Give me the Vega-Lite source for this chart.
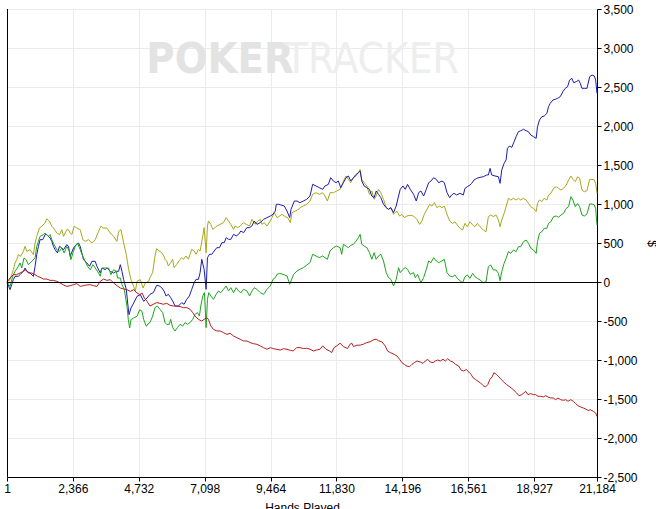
{
  "$schema": "https://vega.github.io/schema/vega-lite/v6.json",
  "description": "PokerTracker results graph",
  "width": 590,
  "height": 468,
  "autosize": {"type": "none"},
  "padding": {"left": 7, "top": 9, "right": 59, "bottom": 32},
  "background": "white",
  "data": {
    "values": [
      {"s": "Olive", "h": 1, "v": 0}, {"s": "Olive", "h": 109, "v": 30}, {"s": "Olive", "h": 229, "v": 158}, {"s": "Olive", "h": 289, "v": 244}, {"s": "Olive", "h": 349, "v": 286}, {"s": "Olive", "h": 409, "v": 350}, {"s": "Olive", "h": 493, "v": 329}, {"s": "Olive", "h": 589, "v": 393}, {"s": "Olive", "h": 649, "v": 457}, {"s": "Olive", "h": 709, "v": 393}, {"s": "Olive", "h": 829, "v": 414}, {"s": "Olive", "h": 949, "v": 350}, {"s": "Olive", "h": 1009, "v": 500}, {"s": "Olive", "h": 1069, "v": 585}, {"s": "Olive", "h": 1165, "v": 692}, {"s": "Olive", "h": 1249, "v": 714}, {"s": "Olive", "h": 1369, "v": 756}, {"s": "Olive", "h": 1429, "v": 812}, {"s": "Olive", "h": 1525, "v": 778}, {"s": "Olive", "h": 1609, "v": 714}, {"s": "Olive", "h": 1669, "v": 692}, {"s": "Olive", "h": 1789, "v": 628}, {"s": "Olive", "h": 1885, "v": 607}, {"s": "Olive", "h": 1969, "v": 671}, {"s": "Olive", "h": 2029, "v": 585}, {"s": "Olive", "h": 2149, "v": 671}, {"s": "Olive", "h": 2209, "v": 671}, {"s": "Olive", "h": 2269, "v": 628}, {"s": "Olive", "h": 2329, "v": 607}, {"s": "Olive", "h": 2413, "v": 714}, {"s": "Olive", "h": 2509, "v": 692}, {"s": "Olive", "h": 2629, "v": 671}, {"s": "Olive", "h": 2725, "v": 543}, {"s": "Olive", "h": 2809, "v": 521}, {"s": "Olive", "h": 2929, "v": 543}, {"s": "Olive", "h": 3049, "v": 500}, {"s": "Olive", "h": 3169, "v": 543}, {"s": "Olive", "h": 3289, "v": 649}, {"s": "Olive", "h": 3373, "v": 714}, {"s": "Olive", "h": 3469, "v": 692}, {"s": "Olive", "h": 3589, "v": 692}, {"s": "Olive", "h": 3709, "v": 628}, {"s": "Olive", "h": 3829, "v": 585}, {"s": "Olive", "h": 3949, "v": 521}, {"s": "Olive", "h": 4009, "v": 649}, {"s": "Olive", "h": 4093, "v": 671}, {"s": "Olive", "h": 4189, "v": 500}, {"s": "Olive", "h": 4285, "v": 350}, {"s": "Olive", "h": 4369, "v": 158}, {"s": "Olive", "h": 4453, "v": 30}, {"s": "Olive", "h": 4549, "v": -56}, {"s": "Olive", "h": 4609, "v": -120}, {"s": "Olive", "h": 4669, "v": 9}, {"s": "Olive", "h": 4789, "v": 30}, {"s": "Olive", "h": 4885, "v": -77}, {"s": "Olive", "h": 4969, "v": -13}, {"s": "Olive", "h": 5089, "v": 9},
      {"s": "Olive", "h": 5134, "v": 56}, {"s": "Olive", "h": 5230, "v": 120}, {"s": "Olive", "h": 5314, "v": 333}, {"s": "Olive", "h": 5374, "v": 427}, {"s": "Olive", "h": 5470, "v": 397}, {"s": "Olive", "h": 5554, "v": 376}, {"s": "Olive", "h": 5638, "v": 333}, {"s": "Olive", "h": 5674, "v": 291}, {"s": "Olive", "h": 5734, "v": 269}, {"s": "Olive", "h": 5794, "v": 205}, {"s": "Olive", "h": 5878, "v": 248}, {"s": "Olive", "h": 5950, "v": 291}, {"s": "Olive", "h": 5998, "v": 184}, {"s": "Olive", "h": 6094, "v": 226}, {"s": "Olive", "h": 6214, "v": 291}, {"s": "Olive", "h": 6274, "v": 312}, {"s": "Olive", "h": 6334, "v": 291}, {"s": "Olive", "h": 6430, "v": 333}, {"s": "Olive", "h": 6514, "v": 291}, {"s": "Olive", "h": 6574, "v": 355}, {"s": "Olive", "h": 6634, "v": 419}, {"s": "Olive", "h": 6718, "v": 397}, {"s": "Olive", "h": 6790, "v": 355}, {"s": "Olive", "h": 6874, "v": 419}, {"s": "Olive", "h": 6934, "v": 397}, {"s": "Olive", "h": 7030, "v": 590}, {"s": "Olive", "h": 7078, "v": 697}, {"s": "Olive", "h": 7150, "v": 376}, {"s": "Olive", "h": 7198, "v": 718}, {"s": "Olive", "h": 7234, "v": 782}, {"s": "Olive", "h": 7318, "v": 739}, {"s": "Olive", "h": 7390, "v": 675}, {"s": "Olive", "h": 7474, "v": 697}, {"s": "Olive", "h": 7534, "v": 718}, {"s": "Olive", "h": 7654, "v": 739}, {"s": "Olive", "h": 7774, "v": 761}, {"s": "Olive", "h": 7870, "v": 825}, {"s": "Olive", "h": 7954, "v": 782}, {"s": "Olive", "h": 8038, "v": 739}, {"s": "Olive", "h": 8134, "v": 675}, {"s": "Olive", "h": 8194, "v": 718}, {"s": "Olive", "h": 8278, "v": 697}, {"s": "Olive", "h": 8374, "v": 718}, {"s": "Olive", "h": 8494, "v": 761}, {"s": "Olive", "h": 8590, "v": 739}, {"s": "Olive", "h": 8710, "v": 718}, {"s": "Olive", "h": 8794, "v": 803}, {"s": "Olive", "h": 8914, "v": 739}, {"s": "Olive", "h": 8998, "v": 782}, {"s": "Olive", "h": 9094, "v": 803}, {"s": "Olive", "h": 9154, "v": 739}, {"s": "Olive", "h": 9238, "v": 761}, {"s": "Olive", "h": 9334, "v": 718}, {"s": "Olive", "h": 9454, "v": 782}, {"s": "Olive", "h": 9514, "v": 825}, {"s": "Olive", "h": 9598, "v": 889}, {"s": "Olive", "h": 9694, "v": 825}, {"s": "Olive", "h": 9790, "v": 846}, {"s": "Olive", "h": 9874, "v": 867}, {"s": "Olive", "h": 9994, "v": 837}, {"s": "Olive", "h": 10078, "v": 825}, {"s": "Olive", "h": 10174, "v": 761}, {"s": "Olive", "h": 10234, "v": 889}, {"s": "Olive", "h": 10354, "v": 910}, {"s": "Olive", "h": 10474, "v": 932},
      {"s": "Olive", "h": 10519, "v": 953}, {"s": "Olive", "h": 10639, "v": 974}, {"s": "Olive", "h": 10759, "v": 996}, {"s": "Olive", "h": 10879, "v": 1038}, {"s": "Olive", "h": 10975, "v": 1124}, {"s": "Olive", "h": 11095, "v": 1145}, {"s": "Olive", "h": 11215, "v": 1124}, {"s": "Olive", "h": 11335, "v": 1145}, {"s": "Olive", "h": 11419, "v": 1102}, {"s": "Olive", "h": 11503, "v": 1038}, {"s": "Olive", "h": 11599, "v": 1145}, {"s": "Olive", "h": 11719, "v": 1145}, {"s": "Olive", "h": 11839, "v": 1167}, {"s": "Olive", "h": 11959, "v": 1188}, {"s": "Olive", "h": 12079, "v": 1295}, {"s": "Olive", "h": 12175, "v": 1359}, {"s": "Olive", "h": 12259, "v": 1316}, {"s": "Olive", "h": 12343, "v": 1273}, {"s": "Olive", "h": 12439, "v": 1337}, {"s": "Olive", "h": 12535, "v": 1359}, {"s": "Olive", "h": 12619, "v": 1402}, {"s": "Olive", "h": 12679, "v": 1444}, {"s": "Olive", "h": 12739, "v": 1316}, {"s": "Olive", "h": 12823, "v": 1273}, {"s": "Olive", "h": 12919, "v": 1231}, {"s": "Olive", "h": 13015, "v": 1124}, {"s": "Olive", "h": 13099, "v": 1167}, {"s": "Olive", "h": 13183, "v": 1060}, {"s": "Olive", "h": 13255, "v": 1102}, {"s": "Olive", "h": 13339, "v": 1188}, {"s": "Olive", "h": 13423, "v": 1145}, {"s": "Olive", "h": 13519, "v": 1060}, {"s": "Olive", "h": 13615, "v": 953}, {"s": "Olive", "h": 13699, "v": 932}, {"s": "Olive", "h": 13783, "v": 953}, {"s": "Olive", "h": 13879, "v": 867}, {"s": "Olive", "h": 13999, "v": 910}, {"s": "Olive", "h": 14095, "v": 846}, {"s": "Olive", "h": 14179, "v": 867}, {"s": "Olive", "h": 14263, "v": 825}, {"s": "Olive", "h": 14359, "v": 846}, {"s": "Olive", "h": 14479, "v": 855}, {"s": "Olive", "h": 14599, "v": 846}, {"s": "Olive", "h": 14719, "v": 803}, {"s": "Olive", "h": 14815, "v": 739}, {"s": "Olive", "h": 14899, "v": 782}, {"s": "Olive", "h": 14983, "v": 867}, {"s": "Olive", "h": 15079, "v": 932}, {"s": "Olive", "h": 15175, "v": 996}, {"s": "Olive", "h": 15259, "v": 974}, {"s": "Olive", "h": 15343, "v": 1017}, {"s": "Olive", "h": 15439, "v": 953}, {"s": "Olive", "h": 15535, "v": 974}, {"s": "Olive", "h": 15619, "v": 953}, {"s": "Olive", "h": 15703, "v": 974}, {"s": "Olive", "h": 15799, "v": 867}, {"s": "Olive", "h": 15895, "v": 782},
      {"s": "Olive", "h": 16000, "v": 752}, {"s": "Olive", "h": 16084, "v": 773}, {"s": "Olive", "h": 16168, "v": 731}, {"s": "Olive", "h": 16264, "v": 688}, {"s": "Olive", "h": 16360, "v": 667}, {"s": "Olive", "h": 16444, "v": 752}, {"s": "Olive", "h": 16528, "v": 709}, {"s": "Olive", "h": 16624, "v": 773}, {"s": "Olive", "h": 16720, "v": 731}, {"s": "Olive", "h": 16804, "v": 709}, {"s": "Olive", "h": 16888, "v": 752}, {"s": "Olive", "h": 16984, "v": 709}, {"s": "Olive", "h": 17104, "v": 667}, {"s": "Olive", "h": 17200, "v": 645}, {"s": "Olive", "h": 17284, "v": 838}, {"s": "Olive", "h": 17368, "v": 859}, {"s": "Olive", "h": 17464, "v": 838}, {"s": "Olive", "h": 17560, "v": 859}, {"s": "Olive", "h": 17644, "v": 795}, {"s": "Olive", "h": 17704, "v": 709}, {"s": "Olive", "h": 17764, "v": 795}, {"s": "Olive", "h": 17848, "v": 880}, {"s": "Olive", "h": 17920, "v": 966}, {"s": "Olive", "h": 18004, "v": 1073}, {"s": "Olive", "h": 18088, "v": 1051}, {"s": "Olive", "h": 18184, "v": 1073}, {"s": "Olive", "h": 18280, "v": 1051}, {"s": "Olive", "h": 18364, "v": 1073}, {"s": "Olive", "h": 18448, "v": 1051}, {"s": "Olive", "h": 18544, "v": 1073}, {"s": "Olive", "h": 18640, "v": 1051}, {"s": "Olive", "h": 18724, "v": 1008}, {"s": "Olive", "h": 18808, "v": 966}, {"s": "Olive", "h": 18904, "v": 944}, {"s": "Olive", "h": 19000, "v": 902}, {"s": "Olive", "h": 19048, "v": 1008}, {"s": "Olive", "h": 19120, "v": 1051}, {"s": "Olive", "h": 19204, "v": 1030}, {"s": "Olive", "h": 19288, "v": 1073}, {"s": "Olive", "h": 19384, "v": 1051}, {"s": "Olive", "h": 19444, "v": 1115}, {"s": "Olive", "h": 19528, "v": 1137}, {"s": "Olive", "h": 19624, "v": 1201}, {"s": "Olive", "h": 19720, "v": 1222}, {"s": "Olive", "h": 19804, "v": 1201}, {"s": "Olive", "h": 19888, "v": 1179}, {"s": "Olive", "h": 19984, "v": 1201}, {"s": "Olive", "h": 20080, "v": 1243}, {"s": "Olive", "h": 20164, "v": 1308}, {"s": "Olive", "h": 20248, "v": 1359}, {"s": "Olive", "h": 20320, "v": 1316}, {"s": "Olive", "h": 20404, "v": 1286}, {"s": "Olive", "h": 20488, "v": 1350}, {"s": "Olive", "h": 20560, "v": 1329}, {"s": "Olive", "h": 20644, "v": 1179}, {"s": "Olive", "h": 20728, "v": 1158}, {"s": "Olive", "h": 20824, "v": 1171}, {"s": "Olive", "h": 20920, "v": 1316}, {"s": "Olive", "h": 21004, "v": 1316}, {"s": "Olive", "h": 21088, "v": 1308}, {"s": "Olive", "h": 21136, "v": 1265}, {"s": "Olive", "h": 21184, "v": 1137},

      {"s": "Blue", "h": 1, "v": 0}, {"s": "Blue", "h": 109, "v": -98}, {"s": "Blue", "h": 169, "v": -34}, {"s": "Blue", "h": 229, "v": 30}, {"s": "Blue", "h": 289, "v": 73}, {"s": "Blue", "h": 409, "v": 73}, {"s": "Blue", "h": 469, "v": 94}, {"s": "Blue", "h": 589, "v": 137}, {"s": "Blue", "h": 649, "v": 179}, {"s": "Blue", "h": 709, "v": 137}, {"s": "Blue", "h": 829, "v": 115}, {"s": "Blue", "h": 949, "v": 73}, {"s": "Blue", "h": 1009, "v": 201}, {"s": "Blue", "h": 1069, "v": 350}, {"s": "Blue", "h": 1129, "v": 457}, {"s": "Blue", "h": 1189, "v": 543}, {"s": "Blue", "h": 1285, "v": 543}, {"s": "Blue", "h": 1369, "v": 607}, {"s": "Blue", "h": 1429, "v": 607}, {"s": "Blue", "h": 1549, "v": 564}, {"s": "Blue", "h": 1609, "v": 521}, {"s": "Blue", "h": 1669, "v": 457}, {"s": "Blue", "h": 1729, "v": 414}, {"s": "Blue", "h": 1813, "v": 372}, {"s": "Blue", "h": 1885, "v": 457}, {"s": "Blue", "h": 1969, "v": 436}, {"s": "Blue", "h": 2029, "v": 414}, {"s": "Blue", "h": 2149, "v": 479}, {"s": "Blue", "h": 2209, "v": 457}, {"s": "Blue", "h": 2269, "v": 329}, {"s": "Blue", "h": 2389, "v": 436}, {"s": "Blue", "h": 2485, "v": 479}, {"s": "Blue", "h": 2569, "v": 500}, {"s": "Blue", "h": 2629, "v": 457}, {"s": "Blue", "h": 2749, "v": 286}, {"s": "Blue", "h": 2869, "v": 244}, {"s": "Blue", "h": 2965, "v": 201}, {"s": "Blue", "h": 3049, "v": 265}, {"s": "Blue", "h": 3169, "v": 265}, {"s": "Blue", "h": 3229, "v": 201}, {"s": "Blue", "h": 3349, "v": 115}, {"s": "Blue", "h": 3409, "v": 179}, {"s": "Blue", "h": 3529, "v": 158}, {"s": "Blue", "h": 3589, "v": 179}, {"s": "Blue", "h": 3709, "v": 137}, {"s": "Blue", "h": 3829, "v": 115}, {"s": "Blue", "h": 3925, "v": 137}, {"s": "Blue", "h": 4009, "v": 137}, {"s": "Blue", "h": 4069, "v": 222}, {"s": "Blue", "h": 4129, "v": 137}, {"s": "Blue", "h": 4189, "v": 30}, {"s": "Blue", "h": 4285, "v": -98}, {"s": "Blue", "h": 4333, "v": -269}, {"s": "Blue", "h": 4381, "v": -419}, {"s": "Blue", "h": 4453, "v": -333}, {"s": "Blue", "h": 4549, "v": -269}, {"s": "Blue", "h": 4669, "v": -184}, {"s": "Blue", "h": 4789, "v": -162}, {"s": "Blue", "h": 4909, "v": -248}, {"s": "Blue", "h": 5029, "v": -205},
      {"s": "Blue", "h": 5134, "v": -158}, {"s": "Blue", "h": 5254, "v": -137}, {"s": "Blue", "h": 5374, "v": -43}, {"s": "Blue", "h": 5470, "v": -51}, {"s": "Blue", "h": 5554, "v": -73}, {"s": "Blue", "h": 5638, "v": -115}, {"s": "Blue", "h": 5710, "v": -179}, {"s": "Blue", "h": 5794, "v": -158}, {"s": "Blue", "h": 5878, "v": -201}, {"s": "Blue", "h": 5950, "v": -244}, {"s": "Blue", "h": 6034, "v": -308}, {"s": "Blue", "h": 6154, "v": -308}, {"s": "Blue", "h": 6274, "v": -265}, {"s": "Blue", "h": 6358, "v": -286}, {"s": "Blue", "h": 6454, "v": -222}, {"s": "Blue", "h": 6550, "v": -179}, {"s": "Blue", "h": 6634, "v": -94}, {"s": "Blue", "h": 6718, "v": -9}, {"s": "Blue", "h": 6790, "v": 34}, {"s": "Blue", "h": 6874, "v": 34}, {"s": "Blue", "h": 6934, "v": 120}, {"s": "Blue", "h": 6994, "v": 291}, {"s": "Blue", "h": 7078, "v": 162}, {"s": "Blue", "h": 7150, "v": -94}, {"s": "Blue", "h": 7198, "v": 312}, {"s": "Blue", "h": 7270, "v": 355}, {"s": "Blue", "h": 7354, "v": 355}, {"s": "Blue", "h": 7438, "v": 397}, {"s": "Blue", "h": 7534, "v": 440}, {"s": "Blue", "h": 7630, "v": 440}, {"s": "Blue", "h": 7714, "v": 504}, {"s": "Blue", "h": 7798, "v": 504}, {"s": "Blue", "h": 7870, "v": 568}, {"s": "Blue", "h": 7954, "v": 547}, {"s": "Blue", "h": 8038, "v": 547}, {"s": "Blue", "h": 8134, "v": 611}, {"s": "Blue", "h": 8230, "v": 590}, {"s": "Blue", "h": 8314, "v": 611}, {"s": "Blue", "h": 8398, "v": 654}, {"s": "Blue", "h": 8494, "v": 632}, {"s": "Blue", "h": 8614, "v": 697}, {"s": "Blue", "h": 8710, "v": 697}, {"s": "Blue", "h": 8794, "v": 718}, {"s": "Blue", "h": 8878, "v": 782}, {"s": "Blue", "h": 8974, "v": 739}, {"s": "Blue", "h": 9094, "v": 761}, {"s": "Blue", "h": 9214, "v": 803}, {"s": "Blue", "h": 9334, "v": 825}, {"s": "Blue", "h": 9454, "v": 846}, {"s": "Blue", "h": 9550, "v": 867}, {"s": "Blue", "h": 9634, "v": 910}, {"s": "Blue", "h": 9670, "v": 996}, {"s": "Blue", "h": 9754, "v": 996}, {"s": "Blue", "h": 9874, "v": 983}, {"s": "Blue", "h": 9958, "v": 974}, {"s": "Blue", "h": 10054, "v": 910}, {"s": "Blue", "h": 10150, "v": 825}, {"s": "Blue", "h": 10198, "v": 932}, {"s": "Blue", "h": 10318, "v": 1038}, {"s": "Blue", "h": 10414, "v": 1038},
      {"s": "Blue", "h": 10519, "v": 1017}, {"s": "Blue", "h": 10639, "v": 1038}, {"s": "Blue", "h": 10759, "v": 1060}, {"s": "Blue", "h": 10879, "v": 1102}, {"s": "Blue", "h": 10975, "v": 1252}, {"s": "Blue", "h": 11095, "v": 1231}, {"s": "Blue", "h": 11215, "v": 1209}, {"s": "Blue", "h": 11335, "v": 1188}, {"s": "Blue", "h": 11419, "v": 1231}, {"s": "Blue", "h": 11539, "v": 1252}, {"s": "Blue", "h": 11623, "v": 1337}, {"s": "Blue", "h": 11719, "v": 1295}, {"s": "Blue", "h": 11815, "v": 1273}, {"s": "Blue", "h": 11899, "v": 1295}, {"s": "Blue", "h": 11983, "v": 1209}, {"s": "Blue", "h": 12079, "v": 1273}, {"s": "Blue", "h": 12175, "v": 1337}, {"s": "Blue", "h": 12259, "v": 1359}, {"s": "Blue", "h": 12343, "v": 1295}, {"s": "Blue", "h": 12439, "v": 1337}, {"s": "Blue", "h": 12535, "v": 1380}, {"s": "Blue", "h": 12619, "v": 1402}, {"s": "Blue", "h": 12679, "v": 1423}, {"s": "Blue", "h": 12739, "v": 1295}, {"s": "Blue", "h": 12823, "v": 1231}, {"s": "Blue", "h": 12919, "v": 1209}, {"s": "Blue", "h": 13015, "v": 1188}, {"s": "Blue", "h": 13099, "v": 1102}, {"s": "Blue", "h": 13183, "v": 1081}, {"s": "Blue", "h": 13255, "v": 1167}, {"s": "Blue", "h": 13339, "v": 1124}, {"s": "Blue", "h": 13423, "v": 1081}, {"s": "Blue", "h": 13519, "v": 996}, {"s": "Blue", "h": 13615, "v": 953}, {"s": "Blue", "h": 13699, "v": 932}, {"s": "Blue", "h": 13783, "v": 953}, {"s": "Blue", "h": 13879, "v": 889}, {"s": "Blue", "h": 13975, "v": 974}, {"s": "Blue", "h": 14059, "v": 1102}, {"s": "Blue", "h": 14119, "v": 1188}, {"s": "Blue", "h": 14215, "v": 1231}, {"s": "Blue", "h": 14299, "v": 1188}, {"s": "Blue", "h": 14383, "v": 1252}, {"s": "Blue", "h": 14479, "v": 1188}, {"s": "Blue", "h": 14599, "v": 1124}, {"s": "Blue", "h": 14695, "v": 1038}, {"s": "Blue", "h": 14779, "v": 1145}, {"s": "Blue", "h": 14863, "v": 1167}, {"s": "Blue", "h": 14959, "v": 1102}, {"s": "Blue", "h": 15055, "v": 1188}, {"s": "Blue", "h": 15139, "v": 1273}, {"s": "Blue", "h": 15223, "v": 1295}, {"s": "Blue", "h": 15319, "v": 1337}, {"s": "Blue", "h": 15415, "v": 1316}, {"s": "Blue", "h": 15499, "v": 1273}, {"s": "Blue", "h": 15619, "v": 1295}, {"s": "Blue", "h": 15703, "v": 1273}, {"s": "Blue", "h": 15799, "v": 1145}, {"s": "Blue", "h": 15895, "v": 1081},
      {"s": "Blue", "h": 15964, "v": 1115}, {"s": "Blue", "h": 16048, "v": 1137}, {"s": "Blue", "h": 16144, "v": 1115}, {"s": "Blue", "h": 16264, "v": 1137}, {"s": "Blue", "h": 16384, "v": 1115}, {"s": "Blue", "h": 16444, "v": 1201}, {"s": "Blue", "h": 16528, "v": 1222}, {"s": "Blue", "h": 16624, "v": 1243}, {"s": "Blue", "h": 16684, "v": 1265}, {"s": "Blue", "h": 16768, "v": 1308}, {"s": "Blue", "h": 16864, "v": 1329}, {"s": "Blue", "h": 16984, "v": 1342}, {"s": "Blue", "h": 17104, "v": 1350}, {"s": "Blue", "h": 17224, "v": 1372}, {"s": "Blue", "h": 17284, "v": 1372}, {"s": "Blue", "h": 17344, "v": 1457}, {"s": "Blue", "h": 17404, "v": 1372}, {"s": "Blue", "h": 17524, "v": 1359}, {"s": "Blue", "h": 17644, "v": 1350}, {"s": "Blue", "h": 17704, "v": 1265}, {"s": "Blue", "h": 17764, "v": 1436}, {"s": "Blue", "h": 17848, "v": 1521}, {"s": "Blue", "h": 17920, "v": 1564}, {"s": "Blue", "h": 17968, "v": 1713}, {"s": "Blue", "h": 18040, "v": 1743}, {"s": "Blue", "h": 18124, "v": 1726}, {"s": "Blue", "h": 18208, "v": 1799}, {"s": "Blue", "h": 18280, "v": 1863}, {"s": "Blue", "h": 18364, "v": 1927}, {"s": "Blue", "h": 18448, "v": 1940}, {"s": "Blue", "h": 18544, "v": 1957}, {"s": "Blue", "h": 18640, "v": 1940}, {"s": "Blue", "h": 18724, "v": 1927}, {"s": "Blue", "h": 18808, "v": 1884}, {"s": "Blue", "h": 18904, "v": 1863}, {"s": "Blue", "h": 19000, "v": 1842}, {"s": "Blue", "h": 19048, "v": 1991}, {"s": "Blue", "h": 19120, "v": 2077}, {"s": "Blue", "h": 19204, "v": 2119}, {"s": "Blue", "h": 19288, "v": 2128}, {"s": "Blue", "h": 19384, "v": 2162}, {"s": "Blue", "h": 19444, "v": 2248}, {"s": "Blue", "h": 19504, "v": 2290}, {"s": "Blue", "h": 19600, "v": 2333}, {"s": "Blue", "h": 19684, "v": 2342}, {"s": "Blue", "h": 19768, "v": 2354}, {"s": "Blue", "h": 19864, "v": 2376}, {"s": "Blue", "h": 19960, "v": 2440}, {"s": "Blue", "h": 20044, "v": 2483}, {"s": "Blue", "h": 20128, "v": 2504}, {"s": "Blue", "h": 20200, "v": 2589}, {"s": "Blue", "h": 20284, "v": 2611}, {"s": "Blue", "h": 20344, "v": 2555}, {"s": "Blue", "h": 20440, "v": 2568}, {"s": "Blue", "h": 20524, "v": 2589}, {"s": "Blue", "h": 20584, "v": 2547}, {"s": "Blue", "h": 20644, "v": 2483}, {"s": "Blue", "h": 20728, "v": 2483}, {"s": "Blue", "h": 20824, "v": 2483}, {"s": "Blue", "h": 20920, "v": 2632}, {"s": "Blue", "h": 21004, "v": 2654}, {"s": "Blue", "h": 21088, "v": 2641}, {"s": "Blue", "h": 21136, "v": 2589}, {"s": "Blue", "h": 21184, "v": 2419},

      {"s": "Green", "h": 1, "v": 0}, {"s": "Green", "h": 109, "v": -56}, {"s": "Green", "h": 205, "v": 73}, {"s": "Green", "h": 289, "v": 137}, {"s": "Green", "h": 373, "v": 179}, {"s": "Green", "h": 469, "v": 244}, {"s": "Green", "h": 529, "v": 179}, {"s": "Green", "h": 613, "v": 308}, {"s": "Green", "h": 685, "v": 286}, {"s": "Green", "h": 769, "v": 222}, {"s": "Green", "h": 889, "v": 265}, {"s": "Green", "h": 1009, "v": 308}, {"s": "Green", "h": 1069, "v": 457}, {"s": "Green", "h": 1129, "v": 521}, {"s": "Green", "h": 1189, "v": 585}, {"s": "Green", "h": 1309, "v": 607}, {"s": "Green", "h": 1369, "v": 628}, {"s": "Green", "h": 1489, "v": 585}, {"s": "Green", "h": 1549, "v": 607}, {"s": "Green", "h": 1609, "v": 543}, {"s": "Green", "h": 1693, "v": 479}, {"s": "Green", "h": 1789, "v": 414}, {"s": "Green", "h": 1885, "v": 393}, {"s": "Green", "h": 1969, "v": 436}, {"s": "Green", "h": 2053, "v": 372}, {"s": "Green", "h": 2149, "v": 457}, {"s": "Green", "h": 2245, "v": 393}, {"s": "Green", "h": 2293, "v": 286}, {"s": "Green", "h": 2389, "v": 393}, {"s": "Green", "h": 2449, "v": 457}, {"s": "Green", "h": 2533, "v": 500}, {"s": "Green", "h": 2629, "v": 414}, {"s": "Green", "h": 2725, "v": 329}, {"s": "Green", "h": 2809, "v": 265}, {"s": "Green", "h": 2893, "v": 201}, {"s": "Green", "h": 2989, "v": 158}, {"s": "Green", "h": 3085, "v": 222}, {"s": "Green", "h": 3169, "v": 179}, {"s": "Green", "h": 3289, "v": 115}, {"s": "Green", "h": 3349, "v": 73}, {"s": "Green", "h": 3409, "v": 179}, {"s": "Green", "h": 3529, "v": 179}, {"s": "Green", "h": 3649, "v": 179}, {"s": "Green", "h": 3733, "v": 94}, {"s": "Green", "h": 3829, "v": 158}, {"s": "Green", "h": 3925, "v": 137}, {"s": "Green", "h": 3973, "v": 51}, {"s": "Green", "h": 4069, "v": 51}, {"s": "Green", "h": 4129, "v": -34}, {"s": "Green", "h": 4213, "v": -98}, {"s": "Green", "h": 4309, "v": -312}, {"s": "Green", "h": 4357, "v": -483}, {"s": "Green", "h": 4405, "v": -590}, {"s": "Green", "h": 4453, "v": -483}, {"s": "Green", "h": 4549, "v": -461}, {"s": "Green", "h": 4669, "v": -440}, {"s": "Green", "h": 4765, "v": -355}, {"s": "Green", "h": 4849, "v": -376}, {"s": "Green", "h": 4909, "v": -483}, {"s": "Green", "h": 5005, "v": -568}, {"s": "Green", "h": 5089, "v": -526},
      {"s": "Green", "h": 5134, "v": -521}, {"s": "Green", "h": 5230, "v": -436}, {"s": "Green", "h": 5314, "v": -329}, {"s": "Green", "h": 5398, "v": -308}, {"s": "Green", "h": 5494, "v": -350}, {"s": "Green", "h": 5590, "v": -393}, {"s": "Green", "h": 5674, "v": -521}, {"s": "Green", "h": 5734, "v": -543}, {"s": "Green", "h": 5830, "v": -543}, {"s": "Green", "h": 5878, "v": -479}, {"s": "Green", "h": 5950, "v": -585}, {"s": "Green", "h": 6034, "v": -628}, {"s": "Green", "h": 6118, "v": -585}, {"s": "Green", "h": 6214, "v": -543}, {"s": "Green", "h": 6310, "v": -564}, {"s": "Green", "h": 6394, "v": -521}, {"s": "Green", "h": 6478, "v": -543}, {"s": "Green", "h": 6574, "v": -521}, {"s": "Green", "h": 6670, "v": -479}, {"s": "Green", "h": 6754, "v": -414}, {"s": "Green", "h": 6838, "v": -393}, {"s": "Green", "h": 6910, "v": -436}, {"s": "Green", "h": 6958, "v": -308}, {"s": "Green", "h": 7030, "v": -179}, {"s": "Green", "h": 7090, "v": -137}, {"s": "Green", "h": 7150, "v": -585}, {"s": "Green", "h": 7198, "v": -222}, {"s": "Green", "h": 7246, "v": -137}, {"s": "Green", "h": 7318, "v": -179}, {"s": "Green", "h": 7414, "v": -222}, {"s": "Green", "h": 7510, "v": -158}, {"s": "Green", "h": 7594, "v": -115}, {"s": "Green", "h": 7678, "v": -137}, {"s": "Green", "h": 7774, "v": -94}, {"s": "Green", "h": 7870, "v": -51}, {"s": "Green", "h": 7954, "v": -115}, {"s": "Green", "h": 8038, "v": -73}, {"s": "Green", "h": 8134, "v": -137}, {"s": "Green", "h": 8230, "v": -73}, {"s": "Green", "h": 8314, "v": -115}, {"s": "Green", "h": 8398, "v": -137}, {"s": "Green", "h": 8494, "v": -94}, {"s": "Green", "h": 8614, "v": -115}, {"s": "Green", "h": 8710, "v": -179}, {"s": "Green", "h": 8794, "v": -115}, {"s": "Green", "h": 8878, "v": -73}, {"s": "Green", "h": 8974, "v": -94}, {"s": "Green", "h": 9094, "v": -137}, {"s": "Green", "h": 9214, "v": -158}, {"s": "Green", "h": 9334, "v": -94}, {"s": "Green", "h": 9454, "v": -51}, {"s": "Green", "h": 9550, "v": 34}, {"s": "Green", "h": 9634, "v": 56}, {"s": "Green", "h": 9694, "v": 98}, {"s": "Green", "h": 9790, "v": 111}, {"s": "Green", "h": 9910, "v": 98}, {"s": "Green", "h": 10054, "v": 77}, {"s": "Green", "h": 10150, "v": -30}, {"s": "Green", "h": 10198, "v": 13}, {"s": "Green", "h": 10294, "v": 98}, {"s": "Green", "h": 10414, "v": 141},
      {"s": "Green", "h": 10519, "v": 162}, {"s": "Green", "h": 10639, "v": 184}, {"s": "Green", "h": 10759, "v": 214}, {"s": "Green", "h": 10879, "v": 248}, {"s": "Green", "h": 10975, "v": 355}, {"s": "Green", "h": 11095, "v": 333}, {"s": "Green", "h": 11215, "v": 312}, {"s": "Green", "h": 11335, "v": 333}, {"s": "Green", "h": 11419, "v": 312}, {"s": "Green", "h": 11503, "v": 291}, {"s": "Green", "h": 11599, "v": 397}, {"s": "Green", "h": 11719, "v": 440}, {"s": "Green", "h": 11839, "v": 461}, {"s": "Green", "h": 11959, "v": 440}, {"s": "Green", "h": 12019, "v": 355}, {"s": "Green", "h": 12079, "v": 483}, {"s": "Green", "h": 12175, "v": 461}, {"s": "Green", "h": 12259, "v": 440}, {"s": "Green", "h": 12343, "v": 470}, {"s": "Green", "h": 12439, "v": 483}, {"s": "Green", "h": 12535, "v": 526}, {"s": "Green", "h": 12619, "v": 568}, {"s": "Green", "h": 12679, "v": 611}, {"s": "Green", "h": 12739, "v": 483}, {"s": "Green", "h": 12823, "v": 461}, {"s": "Green", "h": 12919, "v": 440}, {"s": "Green", "h": 13015, "v": 376}, {"s": "Green", "h": 13099, "v": 291}, {"s": "Green", "h": 13183, "v": 376}, {"s": "Green", "h": 13255, "v": 291}, {"s": "Green", "h": 13339, "v": 333}, {"s": "Green", "h": 13423, "v": 355}, {"s": "Green", "h": 13519, "v": 269}, {"s": "Green", "h": 13615, "v": 120}, {"s": "Green", "h": 13699, "v": 56}, {"s": "Green", "h": 13783, "v": 34}, {"s": "Green", "h": 13879, "v": -51}, {"s": "Green", "h": 13975, "v": 34}, {"s": "Green", "h": 14059, "v": 184}, {"s": "Green", "h": 14119, "v": 120}, {"s": "Green", "h": 14215, "v": 162}, {"s": "Green", "h": 14299, "v": 184}, {"s": "Green", "h": 14383, "v": 162}, {"s": "Green", "h": 14479, "v": 98}, {"s": "Green", "h": 14599, "v": 120}, {"s": "Green", "h": 14659, "v": 56}, {"s": "Green", "h": 14743, "v": 98}, {"s": "Green", "h": 14863, "v": -9}, {"s": "Green", "h": 14959, "v": 56}, {"s": "Green", "h": 15055, "v": 162}, {"s": "Green", "h": 15139, "v": 269}, {"s": "Green", "h": 15223, "v": 248}, {"s": "Green", "h": 15319, "v": 312}, {"s": "Green", "h": 15415, "v": 269}, {"s": "Green", "h": 15499, "v": 248}, {"s": "Green", "h": 15619, "v": 269}, {"s": "Green", "h": 15703, "v": 291}, {"s": "Green", "h": 15799, "v": 120}, {"s": "Green", "h": 15895, "v": 77},
      {"s": "Green", "h": 16000, "v": 68}, {"s": "Green", "h": 16084, "v": 90}, {"s": "Green", "h": 16168, "v": 47}, {"s": "Green", "h": 16264, "v": 17}, {"s": "Green", "h": 16360, "v": -9}, {"s": "Green", "h": 16444, "v": 68}, {"s": "Green", "h": 16528, "v": 90}, {"s": "Green", "h": 16624, "v": 47}, {"s": "Green", "h": 16720, "v": 111}, {"s": "Green", "h": 16804, "v": 68}, {"s": "Green", "h": 16888, "v": 47}, {"s": "Green", "h": 16984, "v": 26}, {"s": "Green", "h": 17104, "v": -9}, {"s": "Green", "h": 17200, "v": 4}, {"s": "Green", "h": 17284, "v": 197}, {"s": "Green", "h": 17368, "v": 218}, {"s": "Green", "h": 17464, "v": 154}, {"s": "Green", "h": 17560, "v": 154}, {"s": "Green", "h": 17644, "v": 111}, {"s": "Green", "h": 17704, "v": 17}, {"s": "Green", "h": 17764, "v": 132}, {"s": "Green", "h": 17848, "v": 239}, {"s": "Green", "h": 17920, "v": 303}, {"s": "Green", "h": 18004, "v": 389}, {"s": "Green", "h": 18088, "v": 367}, {"s": "Green", "h": 18184, "v": 410}, {"s": "Green", "h": 18280, "v": 389}, {"s": "Green", "h": 18364, "v": 453}, {"s": "Green", "h": 18448, "v": 453}, {"s": "Green", "h": 18544, "v": 517}, {"s": "Green", "h": 18640, "v": 538}, {"s": "Green", "h": 18724, "v": 496}, {"s": "Green", "h": 18808, "v": 432}, {"s": "Green", "h": 18904, "v": 410}, {"s": "Green", "h": 19000, "v": 367}, {"s": "Green", "h": 19048, "v": 517}, {"s": "Green", "h": 19120, "v": 624}, {"s": "Green", "h": 19204, "v": 645}, {"s": "Green", "h": 19288, "v": 688}, {"s": "Green", "h": 19384, "v": 688}, {"s": "Green", "h": 19444, "v": 752}, {"s": "Green", "h": 19528, "v": 773}, {"s": "Green", "h": 19624, "v": 838}, {"s": "Green", "h": 19720, "v": 846}, {"s": "Green", "h": 19804, "v": 829}, {"s": "Green", "h": 19888, "v": 859}, {"s": "Green", "h": 19984, "v": 880}, {"s": "Green", "h": 20080, "v": 944}, {"s": "Green", "h": 20164, "v": 966}, {"s": "Green", "h": 20248, "v": 1094}, {"s": "Green", "h": 20320, "v": 1051}, {"s": "Green", "h": 20404, "v": 966}, {"s": "Green", "h": 20488, "v": 1008}, {"s": "Green", "h": 20560, "v": 966}, {"s": "Green", "h": 20644, "v": 859}, {"s": "Green", "h": 20728, "v": 846}, {"s": "Green", "h": 20824, "v": 872}, {"s": "Green", "h": 20920, "v": 1000}, {"s": "Green", "h": 21004, "v": 1000}, {"s": "Green", "h": 21088, "v": 987}, {"s": "Green", "h": 21136, "v": 944}, {"s": "Green", "h": 21184, "v": 731},

      {"s": "Red", "h": 1, "v": 0}, {"s": "Red", "h": 109, "v": 51}, {"s": "Red", "h": 229, "v": 94}, {"s": "Red", "h": 349, "v": 94}, {"s": "Red", "h": 469, "v": 115}, {"s": "Red", "h": 589, "v": 137}, {"s": "Red", "h": 685, "v": 158}, {"s": "Red", "h": 769, "v": 115}, {"s": "Red", "h": 889, "v": 115}, {"s": "Red", "h": 1009, "v": 94}, {"s": "Red", "h": 1093, "v": 73}, {"s": "Red", "h": 1189, "v": 60}, {"s": "Red", "h": 1309, "v": 38}, {"s": "Red", "h": 1429, "v": 38}, {"s": "Red", "h": 1549, "v": 21}, {"s": "Red", "h": 1669, "v": 21}, {"s": "Red", "h": 1789, "v": 9}, {"s": "Red", "h": 1909, "v": -13}, {"s": "Red", "h": 2029, "v": -38}, {"s": "Red", "h": 2149, "v": -56}, {"s": "Red", "h": 2269, "v": -47}, {"s": "Red", "h": 2389, "v": -34}, {"s": "Red", "h": 2509, "v": -21}, {"s": "Red", "h": 2629, "v": -56}, {"s": "Red", "h": 2749, "v": -47}, {"s": "Red", "h": 2869, "v": -38}, {"s": "Red", "h": 2989, "v": -34}, {"s": "Red", "h": 3109, "v": -47}, {"s": "Red", "h": 3229, "v": -56}, {"s": "Red", "h": 3349, "v": 9}, {"s": "Red", "h": 3469, "v": 38}, {"s": "Red", "h": 3589, "v": 21}, {"s": "Red", "h": 3709, "v": 30}, {"s": "Red", "h": 3829, "v": -13}, {"s": "Red", "h": 3949, "v": -47}, {"s": "Red", "h": 4069, "v": -77}, {"s": "Red", "h": 4189, "v": -90}, {"s": "Red", "h": 4309, "v": -98}, {"s": "Red", "h": 4429, "v": -120}, {"s": "Red", "h": 4549, "v": -98}, {"s": "Red", "h": 4669, "v": -141}, {"s": "Red", "h": 4765, "v": -162}, {"s": "Red", "h": 4849, "v": -141}, {"s": "Red", "h": 4933, "v": -205}, {"s": "Red", "h": 5029, "v": -248},
      {"s": "Red", "h": 5134, "v": -308}, {"s": "Red", "h": 5254, "v": -286}, {"s": "Red", "h": 5374, "v": -265}, {"s": "Red", "h": 5494, "v": -273}, {"s": "Red", "h": 5614, "v": -286}, {"s": "Red", "h": 5734, "v": -273}, {"s": "Red", "h": 5854, "v": -299}, {"s": "Red", "h": 5974, "v": -308}, {"s": "Red", "h": 6094, "v": -308}, {"s": "Red", "h": 6214, "v": -316}, {"s": "Red", "h": 6334, "v": -329}, {"s": "Red", "h": 6454, "v": -329}, {"s": "Red", "h": 6574, "v": -350}, {"s": "Red", "h": 6670, "v": -393}, {"s": "Red", "h": 6754, "v": -436}, {"s": "Red", "h": 6874, "v": -479}, {"s": "Red", "h": 6994, "v": -500}, {"s": "Red", "h": 7078, "v": -479}, {"s": "Red", "h": 7174, "v": -457}, {"s": "Red", "h": 7234, "v": -479}, {"s": "Red", "h": 7318, "v": -564}, {"s": "Red", "h": 7414, "v": -607}, {"s": "Red", "h": 7534, "v": -628}, {"s": "Red", "h": 7654, "v": -628}, {"s": "Red", "h": 7774, "v": -649}, {"s": "Red", "h": 7894, "v": -671}, {"s": "Red", "h": 8014, "v": -658}, {"s": "Red", "h": 8134, "v": -692}, {"s": "Red", "h": 8254, "v": -714}, {"s": "Red", "h": 8374, "v": -735}, {"s": "Red", "h": 8494, "v": -756}, {"s": "Red", "h": 8614, "v": -756}, {"s": "Red", "h": 8734, "v": -778}, {"s": "Red", "h": 8854, "v": -791}, {"s": "Red", "h": 8974, "v": -799}, {"s": "Red", "h": 9094, "v": -820}, {"s": "Red", "h": 9214, "v": -842}, {"s": "Red", "h": 9334, "v": -863}, {"s": "Red", "h": 9454, "v": -842}, {"s": "Red", "h": 9574, "v": -855}, {"s": "Red", "h": 9694, "v": -863}, {"s": "Red", "h": 9814, "v": -872}, {"s": "Red", "h": 9934, "v": -855}, {"s": "Red", "h": 10054, "v": -863}, {"s": "Red", "h": 10174, "v": -876},
      {"s": "Red", "h": 10280, "v": -884}, {"s": "Red", "h": 10400, "v": -841}, {"s": "Red", "h": 10520, "v": -841}, {"s": "Red", "h": 10640, "v": -853}, {"s": "Red", "h": 10760, "v": -849}, {"s": "Red", "h": 10880, "v": -862}, {"s": "Red", "h": 11000, "v": -884}, {"s": "Red", "h": 11120, "v": -871}, {"s": "Red", "h": 11240, "v": -862}, {"s": "Red", "h": 11336, "v": -819}, {"s": "Red", "h": 11456, "v": -862}, {"s": "Red", "h": 11576, "v": -884}, {"s": "Red", "h": 11660, "v": -905}, {"s": "Red", "h": 11744, "v": -841}, {"s": "Red", "h": 11840, "v": -819}, {"s": "Red", "h": 11960, "v": -784}, {"s": "Red", "h": 12080, "v": -828}, {"s": "Red", "h": 12224, "v": -853}, {"s": "Red", "h": 12320, "v": -797}, {"s": "Red", "h": 12380, "v": -784}, {"s": "Red", "h": 12440, "v": -828}, {"s": "Red", "h": 12560, "v": -810}, {"s": "Red", "h": 12680, "v": -810}, {"s": "Red", "h": 12800, "v": -797}, {"s": "Red", "h": 12920, "v": -776}, {"s": "Red", "h": 13040, "v": -767}, {"s": "Red", "h": 13160, "v": -741}, {"s": "Red", "h": 13256, "v": -733}, {"s": "Red", "h": 13340, "v": -754}, {"s": "Red", "h": 13460, "v": -767}, {"s": "Red", "h": 13580, "v": -819}, {"s": "Red", "h": 13664, "v": -884}, {"s": "Red", "h": 13760, "v": -905}, {"s": "Red", "h": 13904, "v": -927}, {"s": "Red", "h": 14000, "v": -948}, {"s": "Red", "h": 14096, "v": -991}, {"s": "Red", "h": 14180, "v": -1034}, {"s": "Red", "h": 14264, "v": -1056}, {"s": "Red", "h": 14360, "v": -1078}, {"s": "Red", "h": 14456, "v": -1086}, {"s": "Red", "h": 14540, "v": -1056}, {"s": "Red", "h": 14624, "v": -1034}, {"s": "Red", "h": 14720, "v": -1013}, {"s": "Red", "h": 14840, "v": -1026}, {"s": "Red", "h": 14936, "v": -1043}, {"s": "Red", "h": 15020, "v": -1013}, {"s": "Red", "h": 15104, "v": -991}, {"s": "Red", "h": 15200, "v": -1026}, {"s": "Red", "h": 15296, "v": -1034}, {"s": "Red", "h": 15380, "v": -1013}, {"s": "Red", "h": 15464, "v": -1000}, {"s": "Red", "h": 15560, "v": -1013}, {"s": "Red", "h": 15656, "v": -991}, {"s": "Red", "h": 15740, "v": -1013}, {"s": "Red", "h": 15824, "v": -983}, {"s": "Red", "h": 15920, "v": -1013}, {"s": "Red", "h": 16016, "v": -1026}, {"s": "Red", "h": 16100, "v": -1056}, {"s": "Red", "h": 16220, "v": -1078}, {"s": "Red", "h": 16304, "v": -1129}, {"s": "Red", "h": 16400, "v": -1142}, {"s": "Red", "h": 16496, "v": -1121}, {"s": "Red", "h": 16580, "v": -1155}, {"s": "Red", "h": 16664, "v": -1185}, {"s": "Red", "h": 16736, "v": -1228}, {"s": "Red", "h": 16820, "v": -1250}, {"s": "Red", "h": 16904, "v": -1272}, {"s": "Red", "h": 17000, "v": -1293}, {"s": "Red", "h": 17096, "v": -1328}, {"s": "Red", "h": 17180, "v": -1345}, {"s": "Red", "h": 17264, "v": -1315}, {"s": "Red", "h": 17336, "v": -1250}, {"s": "Red", "h": 17420, "v": -1216}, {"s": "Red", "h": 17480, "v": -1164}, {"s": "Red", "h": 17576, "v": -1185}, {"s": "Red", "h": 17660, "v": -1216}, {"s": "Red", "h": 17744, "v": -1250}, {"s": "Red", "h": 17840, "v": -1284}, {"s": "Red", "h": 17936, "v": -1315}, {"s": "Red", "h": 18020, "v": -1336}, {"s": "Red", "h": 18104, "v": -1358}, {"s": "Red", "h": 18200, "v": -1388}, {"s": "Red", "h": 18296, "v": -1422}, {"s": "Red", "h": 18380, "v": -1457}, {"s": "Red", "h": 18464, "v": -1448}, {"s": "Red", "h": 18560, "v": -1422}, {"s": "Red", "h": 18620, "v": -1401}, {"s": "Red", "h": 18704, "v": -1444}, {"s": "Red", "h": 18800, "v": -1431}, {"s": "Red", "h": 18896, "v": -1444}, {"s": "Red", "h": 18980, "v": -1444}, {"s": "Red", "h": 19064, "v": -1465}, {"s": "Red", "h": 19160, "v": -1465}, {"s": "Red", "h": 19256, "v": -1474}, {"s": "Red", "h": 19340, "v": -1457}, {"s": "Red", "h": 19424, "v": -1474}, {"s": "Red", "h": 19520, "v": -1487}, {"s": "Red", "h": 19616, "v": -1487}, {"s": "Red", "h": 19700, "v": -1509}, {"s": "Red", "h": 19784, "v": -1487}, {"s": "Red", "h": 19880, "v": -1509}, {"s": "Red", "h": 19976, "v": -1517}, {"s": "Red", "h": 20060, "v": -1509}, {"s": "Red", "h": 20144, "v": -1530}, {"s": "Red", "h": 20240, "v": -1509}, {"s": "Red", "h": 20336, "v": -1530}, {"s": "Red", "h": 20420, "v": -1560}, {"s": "Red", "h": 20504, "v": -1586}, {"s": "Red", "h": 20600, "v": -1603}, {"s": "Red", "h": 20696, "v": -1616}, {"s": "Red", "h": 20780, "v": -1629}, {"s": "Red", "h": 20864, "v": -1647}, {"s": "Red", "h": 20944, "v": -1638}, {"s": "Red", "h": 21056, "v": -1659}, {"s": "Red", "h": 21140, "v": -1681}, {"s": "Red", "h": 21184, "v": -1724}
    ]
  },
  "layer": [
    {
      "data": {"values": [{"t": "POKER"}]},
      "mark": {"type": "text", "font": "Liberation Sans Narrow, DejaVu Sans Condensed, Liberation Sans", "fontWeight": "bold", "fontSize": 43, "align": "center", "baseline": "alphabetic", "color": "#e3e3e3"},
      "encoding": {
        "x": {"datum": 7650, "type": "quantitative"},
        "y": {"datum": 2680, "type": "quantitative"},
        "text": {"field": "t"}
      }
    },
    {
      "data": {"values": [{"t": "TRACKER"}]},
      "mark": {"type": "text", "font": "Liberation Sans Narrow, DejaVu Sans Condensed, Liberation Sans", "fontSize": 42, "align": "center", "baseline": "alphabetic", "color": "#eeeeee"},
      "encoding": {
        "x": {"datum": 13100, "type": "quantitative"},
        "y": {"datum": 2680, "type": "quantitative"},
        "text": {"field": "t"}
      }
    },
    {
      "mark": {"type": "line", "strokeWidth": 1, "interpolate": "linear"},
      "encoding": {
        "x": {
          "field": "h",
          "type": "quantitative",
          "scale": {"domain": [1, 21184], "nice": false, "zero": false},
          "axis": {
            "values": [1, 2366, 4732, 7098, 9464, 11830, 14196, 16561, 18927, 21184],
            "tickCount": 20,
            "format": ",d",
            "labelFlush": false,
            "labelOverlap": false,
            "title": "Hands Played",
            "titlePadding": 8
          }
        },
        "y": {
          "field": "v",
          "type": "quantitative",
          "scale": {"domain": [-2500, 3500], "nice": false, "zero": false},
          "axis": {
            "orient": "right",
            "values": [-2500, -2000, -1500, -1000, -500, 0, 500, 1000, 1500, 2000, 2500, 3000, 3500],
            "tickCount": 20,
            "labelExpr": "replace(format(datum.value, ',d'), '\u2212', '-')",
            "labelOverlap": false,
            "labelFlush": false,
            "title": "$",
            "titleAngle": 90,
            "titlePadding": 7
          }
        },
        "color": {
          "field": "s",
          "type": "nominal",
          "scale": {"domain": ["Olive", "Blue", "Green", "Red"], "range": ["#a8a81c", "#1c1cb0", "#1ea41e", "#b41e1e"]},
          "legend": null
        }
      }
    },
    {
      "mark": {"type": "rule", "color": "#000000", "strokeWidth": 1, "yOffset": 0.5},
      "encoding": {"y": {"datum": 0, "type": "quantitative"}}
    },
    {
      "mark": {"type": "rule", "color": "#000000", "strokeWidth": 1, "xOffset": 0.5},
      "encoding": {"x": {"datum": 1, "type": "quantitative"}}
    }
  ],
  "config": {
    "view": {"stroke": null},
    "font": "Liberation Sans",
    "axis": {
      "grid": true,
      "gridColor": "#ebebeb",
      "gridWidth": 1,
      "domainColor": "#000000",
      "domainWidth": 1,
      "tickColor": "#000000",
      "tickSize": 4,
      "labelColor": "#000000",
      "labelFont": "Liberation Sans",
      "labelFontSize": 12,
      "labelPadding": 2,
      "labelOverlap": false,
      "titleColor": "#000000",
      "titleFont": "Liberation Sans",
      "titleFontSize": 12,
      "titleFontWeight": "normal"
    }
  }
}
